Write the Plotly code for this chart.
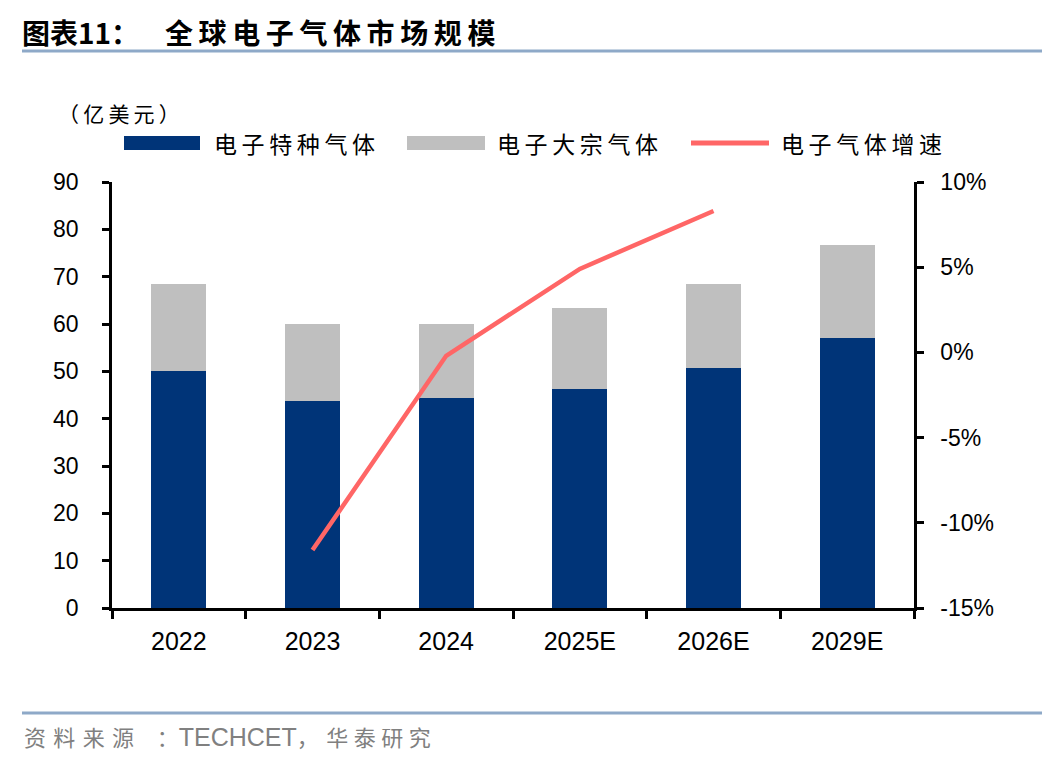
import plotly.graph_objects as go

categories = ["2022", "2023", "2024", "2025E", "2026E", "2029E"]
special_gas = [50.0, 43.7, 44.3, 46.2, 50.6, 57.0]
bulk_gas = [18.4, 16.4, 15.8, 17.2, 17.8, 19.6]
growth_cats = ["2023", "2024", "2025E", "2026E"]
growth_pct = [-11.6, -0.2, 4.9, 8.3]
left_ticks = [0, 10, 20, 30, 40, 50, 60, 70, 80, 90]
right_ticks = [-15, -10, -5, 0, 5, 10]
right_tick_text = ["-15%", "-10%", "-5%", "0%", "5%", "10%"]

NAVY = "#003478"
GRAY = "#BFBFBF"
RED = "#FF6666"
NUM_FONT = "Liberation Sans, Arial, sans-serif"
CJK_FONT = "Noto Sans CJK SC, sans-serif"
TS = "\u2009"   # thin space
QS = "\u2005"   # four-per-em space
TPS = "\u2004"  # three-per-em space
ENS = "\u2002"  # en space

fig = go.Figure()
fig.add_trace(go.Bar(x=categories, y=special_gas, name="电子特种气体",
                     marker=dict(color=NAVY, line=dict(width=0)), showlegend=False))
fig.add_trace(go.Bar(x=categories, y=bulk_gas, name="电子大宗气体",
                     marker=dict(color=GRAY, line=dict(width=0)), showlegend=False))
fig.add_trace(go.Scatter(x=growth_cats, y=growth_pct, name="电子气体增速", yaxis="y2",
                         mode="lines", line=dict(color=RED, width=4.5), showlegend=False))

W, H = 1048, 760
L, R, T, B = 112, 134, 182, 152

fig.update_layout(
    width=W, height=H,
    margin=dict(l=L, r=R, t=T, b=B, autoexpand=False),
    paper_bgcolor="white", plot_bgcolor="white",
    barmode="stack", bargap=0.59,
    xaxis=dict(type="category", showline=True, linecolor="black", linewidth=2.5,
               ticks="outside", ticklen=8, tickwidth=2.5, tickcolor="black",
               tickson="boundaries", showgrid=False,
               tickfont=dict(family=NUM_FONT, size=25, color="black"),
               ticklabelstandoff=9),
    yaxis=dict(range=[0, 90], tickvals=left_ticks, showline=True, linecolor="black",
               linewidth=2.5, ticks="outside", ticklen=7, tickwidth=2.5, tickcolor="black",
               showgrid=False, zeroline=False,
               tickfont=dict(family=NUM_FONT, size=23, color="black"),
               ticklabelstandoff=19),
    yaxis2=dict(range=[-15, 10], tickvals=right_ticks, ticktext=right_tick_text,
                overlaying="y", side="right", showline=True, linecolor="black",
                linewidth=2.5, ticks="outside", ticklen=7, tickwidth=2.5, tickcolor="black",
                showgrid=False, zeroline=False,
                tickfont=dict(family=NUM_FONT, size=23, color="black"),
                ticklabelstandoff=12),
)

PW, PH = W - L - R, H - T - B


def px(x):
    return (x - L) / PW


def py(y):
    return 1 - (y - T) / PH


def spaced(s, sp=TS):
    return sp.join(list(s))


shapes = []
annotations = []


def text(x, y, s, size, color="black", bold=False, family=CJK_FONT):
    annotations.append(dict(xref="paper", yref="paper", x=px(x), y=py(y), xanchor="left",
                            yanchor="middle", showarrow=False,
                            text=("<b>%s</b>" % s) if bold else s,
                            font=dict(family=family, size=size, color=color)))


# title and rules
text(20, 32, "图表11：", 28, bold=True)
text(163, 32, spaced("全球电子气体市场规模"), 28, bold=True)
shapes.append(dict(type="line", xref="paper", yref="paper", x0=px(22), x1=px(1042),
                   y0=py(51), y1=py(51), line=dict(color="#8EA9C8", width=3)))
shapes.append(dict(type="line", xref="paper", yref="paper", x0=px(22), x1=px(1042),
                   y0=py(713), y1=py(713), line=dict(color="#8EA9C8", width=3)))

# source (single text line)
SRC = "#808080"
source_text = (spaced("资料来源", TPS) + ENS + TPS + TS + "："
               + '<span style="font-family:Liberation Sans, Arial, sans-serif;font-size:25px">TECHCET</span>'
               + "，" + TPS + spaced("华泰研究", QS))
text(22, 736, source_text, 22, color=SRC)

# unit label
text(56, 113, spaced("（亿美元）"), 21)

# legend
ly = 143
shapes.append(dict(type="rect", xref="paper", yref="paper", x0=px(124), x1=px(200),
                   y0=py(ly - 7), y1=py(ly + 7), fillcolor=NAVY, line=dict(width=0)))
text(212, ly, spaced("电子特种气体"), 23)
shapes.append(dict(type="rect", xref="paper", yref="paper", x0=px(407), x1=px(485),
                   y0=py(ly - 7), y1=py(ly + 7), fillcolor=GRAY, line=dict(width=0)))
text(495, ly, spaced("电子大宗气体"), 23)
shapes.append(dict(type="line", xref="paper", yref="paper", x0=px(691), x1=px(769),
                   y0=py(ly), y1=py(ly), line=dict(color=RED, width=5)))
text(779, ly, spaced("电子气体增速"), 23)

fig.update_layout(shapes=shapes, annotations=annotations)
fig.write_html("out.html", config={"displayModeBar": False},
               post_script="document.body.style.margin='0';")
